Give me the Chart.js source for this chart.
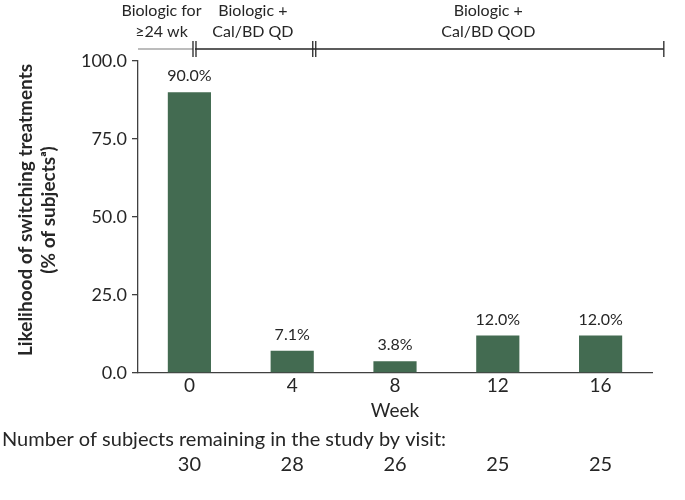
<!DOCTYPE html>
<html><head><meta charset="utf-8">
<script src="https://cdn.jsdelivr.net/npm/chart.js@4"></script>
<style>html,body{margin:0;padding:0;background:#fff}#w{width:685px;height:500px}</style>
</head><body><div id="w"><canvas id="c" width="685" height="500"></canvas></div>
<script>
const weeks = ["0", "4", "8", "12", "16"];
const switchPct = [90.0, 7.1, 3.8, 12.0, 12.0];
const subjectsRemaining = [30, 28, 26, 25, 25];
const yTicks = [0, 25, 50, 75, 100];
const phaseLabels = [["Biologic for", "\u226524 wk"], ["Biologic +", "Cal/BD QD"], ["Biologic +", "Cal/BD QOD"]];

const FONT = "Lato, 'Open Sans', sans-serif";
const TXT = "#262626";

const extras = {
  id: "extras",
  afterDraw(chart) {
    const ctx = chart.ctx, ca = chart.chartArea, xs = chart.scales.x;
    ctx.save();
    // data labels
    const meta = chart.getDatasetMeta(0);
    ctx.font = "16px " + FONT; ctx.fillStyle = TXT; ctx.textAlign = "center"; ctx.textBaseline = "middle";
    meta.data.forEach((b, i) => {
      ctx.fillText(switchPct[i].toFixed(1) + "%", b.x, b.y - 16);
    });
    // y title
    ctx.font = "bold 19px " + FONT;
    ctx.translate(26, 210);
    ctx.rotate(-Math.PI / 2);
    ctx.fillText("Likelihood of switching treatments", 0, 0);
    ctx.fillText("(% of subjects\u1d43)", 0, 23);
    ctx.restore();
    ctx.save();
    ctx.fillStyle = TXT; ctx.textBaseline = "middle";
    ctx.textAlign = "center";
    ctx.font = "19px " + FONT;
    ctx.fillText("Week", xs.getPixelForValue(2), 411);
    ctx.font = "20px " + FONT;
    ctx.textAlign = "left";
    ctx.fillText("Number of subjects remaining in the study by visit:", 2, 440);
    ctx.textAlign = "center";
    subjectsRemaining.forEach((n, i) => ctx.fillText(String(n), xs.getPixelForValue(i), 465));
    // phase bar
    const w = ca.right - ca.left;
    const xA = ca.left, xB = ca.left + w * 0.107, xC = ca.left + w * 0.34, xD = ca.left + w * 1.023;
    const yL = 49;
    ctx.lineWidth = 1.3;
    ctx.strokeStyle = "#a6a6a6";
    ctx.beginPath(); ctx.moveTo(xA, yL); ctx.lineTo(xB, yL); ctx.stroke();
    ctx.strokeStyle = "#262626";
    ctx.beginPath(); ctx.moveTo(xB + 2, yL); ctx.lineTo(xD, yL); ctx.stroke();
    [xB, xB + 3, xC, xC + 3, xD].forEach(x => {
      ctx.beginPath(); ctx.moveTo(x, yL - 8); ctx.lineTo(x, yL + 8); ctx.stroke();
    });
    ctx.font = "16px " + FONT; ctx.fillStyle = TXT;
    const centers = [(xA + xB) / 2 - 4, (xB + xC) / 2, (xC + xD) / 2];
    phaseLabels.forEach((l, i) => {
      ctx.fillText(l[0], centers[i], 11);
      ctx.fillText(l[1], centers[i], 32);
    });
    ctx.restore();
  }
};

new Chart(document.getElementById("c"), {
  type: "bar",
  data: { labels: weeks, datasets: [{ data: switchPct, backgroundColor: "#436b51", borderWidth: 0, categoryPercentage: 1, barPercentage: 0.42 }] },
  options: {
    responsive: false, animation: false, devicePixelRatio: 1,
    layout: { padding: { top: 61, right: 33, left: 0, bottom: 0 } },
    plugins: { legend: { display: false }, tooltip: { enabled: false } },
    scales: {
      x: {
        grid: { display: false, drawTicks: false },
        border: { display: true, color: "#404040", width: 1.3 },
        ticks: { font: { family: FONT, size: 19 }, color: TXT, padding: 1 },
        afterFit(s) { s.height = 127; }
      },
      y: {
        min: 0, max: 100,
        afterBuildTicks(s) { s.ticks = yTicks.map(v => ({ value: v })); },
        grid: { display: true, drawOnChartArea: false, drawTicks: true, tickLength: 6, color: "#404040", lineWidth: 1.3 },
        border: { display: true, color: "#404040", width: 1.3 },
        ticks: { font: { family: FONT, size: 18 }, color: TXT, padding: 5, callback: v => Number(v).toFixed(1) },
        afterFit(s) { s.width = 138; }
      }
    }
  },
  plugins: [extras]
});
</script>
</body></html>
